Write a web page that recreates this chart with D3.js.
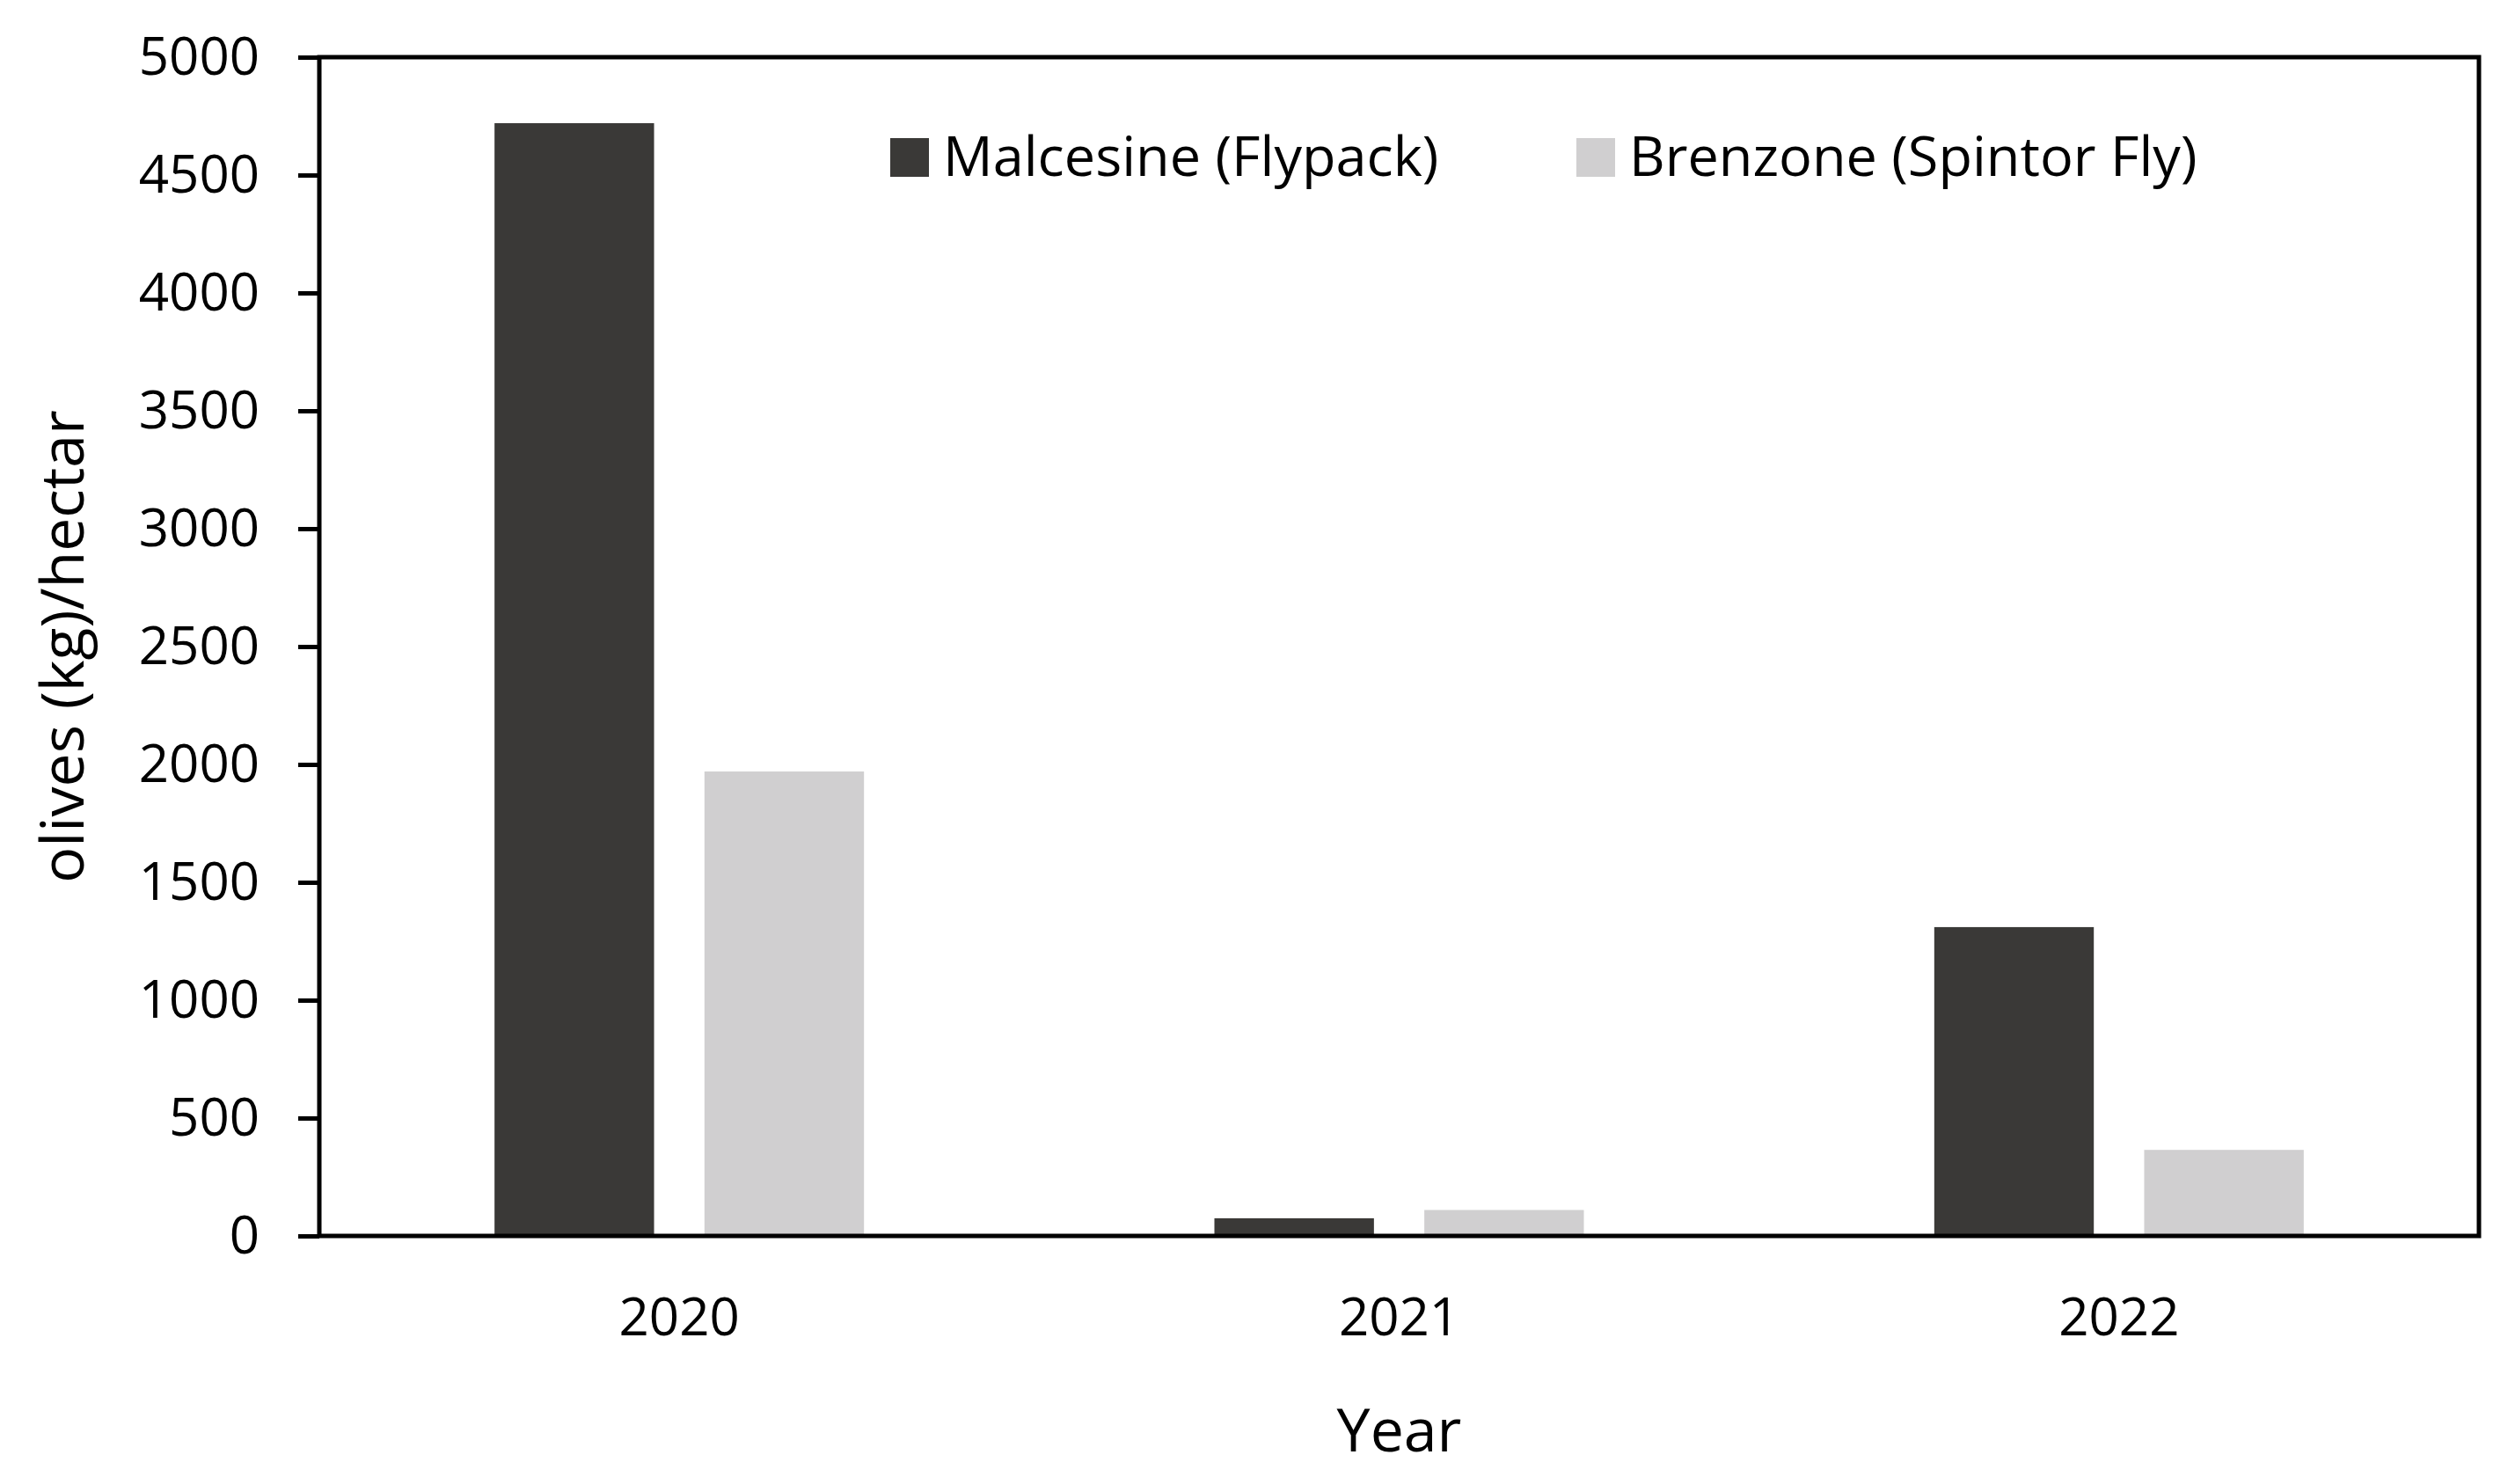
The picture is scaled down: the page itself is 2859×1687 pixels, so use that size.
<!DOCTYPE html>
<html>
<head>
<meta charset="utf-8">
<script src="https://cdn.jsdelivr.net/npm/d3@7"></script>
<style>
  body { margin: 0; background: #fff; }
  text { font-family: "Open Sans", sans-serif; fill: #000; }
</style>
</head>
<body>
<svg id="chart" width="2859" height="1687"></svg>
<script>
var years = ["2020", "2021", "2022"];
var seriesNames = ["Malcesine (Flypack)", "Brenzone (Spintor Fly)"];
var malcesine = [4720, 75, 1310];
var brenzone = [1970, 110, 365];
var yTicks = [0, 500, 1000, 1500, 2000, 2500, 3000, 3500, 4000, 4500, 5000];
var colors = ["#3a3937", "#d0cfd0"];

var svg = d3.select("#chart");
var plotLeft = 363, plotRight = 2818, plotTop = 65, plotBottom = 1405;

var x = d3.scaleBand().domain(years).range([plotLeft, plotRight]);
var inner = d3.scaleBand().domain([0, 1]).range([-210, 210]).paddingInner(0.24);
var y = d3.scaleLinear().domain([0, 5000]).range([plotBottom, plotTop]);

// bars
var values = [malcesine, brenzone];
values.forEach(function (vals, s) {
	svg.append("g").selectAll("rect")
	  .data(vals).enter()
	  .append("rect")
	    .attr("x", function (d, i) { return x(years[i]) + x.bandwidth() / 2 + inner(s); })
	    .attr("width", inner.bandwidth())
	    .attr("y", function (d) { return y(d); })
	    .attr("height", function (d) { return plotBottom - y(d); })
	    .attr("fill", colors[s]);
});

// frame
svg.append("rect")
  .attr("x", plotLeft).attr("y", plotTop)
  .attr("width", plotRight - plotLeft).attr("height", plotBottom - plotTop)
  .attr("fill", "none").attr("stroke", "#000").attr("stroke-width", 5);

// y axis
var yAxis = svg.append("g").attr("transform", "translate(" + plotLeft + ",0)")
  .call(d3.axisLeft(y).tickValues(yTicks).tickFormat(d3.format("d")).tickSize(24).tickPadding(44));
yAxis.select(".domain").remove();
yAxis.selectAll("line").attr("stroke", "#000").attr("stroke-width", 5);
yAxis.selectAll("text").attr("font-size", 60).attr("font-family", "Open Sans").attr("fill", "#000");

// x labels
var xAxis = svg.append("g").attr("transform", "translate(0," + plotBottom + ")")
  .call(d3.axisBottom(x).tickSize(0).tickPadding(70));
xAxis.select(".domain").remove();
xAxis.selectAll("text").attr("font-size", 60).attr("font-family", "Open Sans").attr("fill", "#000");

// axis titles
svg.append("text").attr("x", (plotLeft + plotRight) / 2).attr("y", 1650)
  .attr("text-anchor", "middle").attr("font-size", 68).text("Year");
svg.append("text")
  .attr("transform", "translate(95," + (plotTop + plotBottom) / 2 + ") rotate(-90)")
  .attr("text-anchor", "middle").attr("font-size", 68).text("olives (kg)/hectar");

// legend
var legendX = [1012, 1792];
seriesNames.forEach(function (name, s) {
	svg.append("rect").attr("x", legendX[s]).attr("y", 157)
	  .attr("width", 44).attr("height", 44).attr("fill", colors[s]);
	svg.append("text").attr("x", legendX[s] + 60).attr("y", 200)
	  .attr("font-size", 63).text(name);
});
</script>
</body>
</html>
